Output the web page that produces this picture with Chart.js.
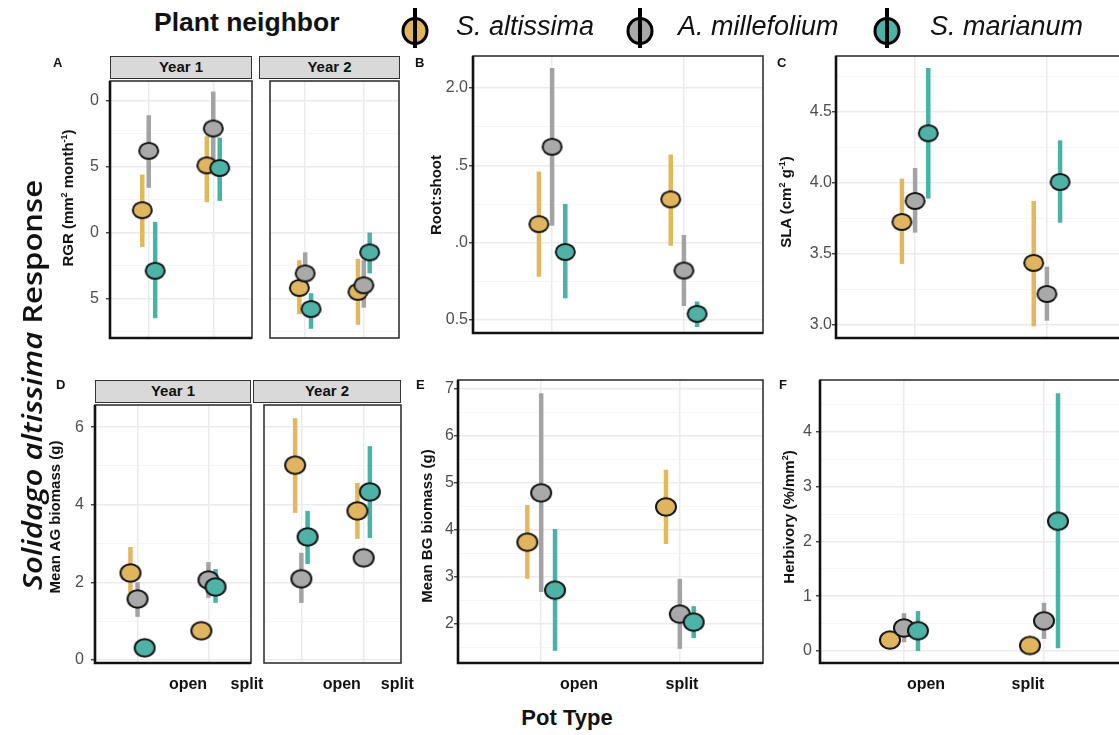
<!DOCTYPE html>
<html><head><meta charset="utf-8">
<script src="https://cdn.jsdelivr.net/npm/chart.js@4.4.1/dist/chart.umd.min.js"></script>
<style>
html,body{margin:0;padding:0;background:#fff;}
body{width:1119px;height:735px;overflow:hidden;position:relative;font-family:"Liberation Sans",Arial,sans-serif;color:#111;}
.abs{position:absolute;white-space:nowrap;}
.strip{position:absolute;box-sizing:border-box;background:#D9D9D9;border:1.5px solid #333;font-weight:bold;font-size:15px;text-align:center;}
.ytitle{position:absolute;white-space:nowrap;font-weight:bold;font-size:15px;transform:translate(-50%,-50%) rotate(-90deg);}
.ytitle sup{font-size:9px;}
.letter{position:absolute;font-weight:bold;font-size:13px;}
canvas{position:absolute;}
</style>
</head><body>
<script>
// ---------------- data ----------------
const potTypes = ['open', 'split'];
const neighbors = ['S. altissima', 'A. millefolium', 'S. marianum'];
const fillColors = ['#E0B55E', '#A9A9A9', '#4DB3A7'];
const barColors = ['#E3B75C', '#A3A3A3', '#48B2A6'];

// rows = neighbor (S. altissima, A. millefolium, S. marianum); cols = [open, split]
// A: RGR
const rgrY1Mean = [[1.7, 5.1], [6.2, 7.9], [-2.9, 4.9]];
const rgrY1Lo   = [[-1.1, 2.3], [3.4, 5.0], [-6.5, 2.4]];
const rgrY1Hi   = [[4.4, 7.3], [8.9, 10.7], [0.8, 7.2]];
const rgrY2Mean = [[-4.2, -4.5], [-3.1, -4.0], [-5.8, -1.5]];
const rgrY2Lo   = [[-6.2, -7.0], [-4.5, -5.7], [-7.3, -3.1]];
const rgrY2Hi   = [[-2.1, -2.0], [-1.5, -2.1], [-4.6, 0.0]];
const rgrTickValues = [-5, 0, 5, 10];
const rgrTickLabels = ['5', '0', '5', '0'];

// B: Root:shoot
const rsMean = [[1.12, 1.28], [1.62, 0.82], [0.94, 0.54]];
const rsLo   = [[0.78, 0.98], [1.11, 0.59], [0.64, 0.455]];
const rsHi   = [[1.46, 1.57], [2.13, 1.05], [1.25, 0.62]];
const rsTickValues = [0.5, 1.0, 1.5, 2.0];
const rsTickLabels = ['0.5', '.0', '.5', '2.0'];

// C: SLA
const slaMean = [[3.725, 3.437], [3.873, 3.218], [4.35, 4.007]];
const slaLo   = [[3.43, 2.99], [3.65, 3.03], [3.89, 3.72]];
const slaHi   = [[4.03, 3.873], [4.105, 3.41], [4.81, 4.30]];
const slaTickValues = [3.0, 3.5, 4.0, 4.5];
const slaTickLabels = ['3.0', '3.5', '4.0', '4.5'];

// D: Mean AG biomass
const agY1Mean = [[2.24, 0.75], [1.57, 2.06], [0.31, 1.88]];
const agY1Lo   = [[1.73, 0.75], [1.11, 1.60], [0.31, 1.47]];
const agY1Hi   = [[2.91, 0.75], [2.00, 2.52], [0.31, 2.34]];
const agY2Mean = [[5.02, 3.84], [2.09, 2.63], [3.17, 4.33]];
const agY2Lo   = [[3.79, 3.12], [1.47, 2.63], [2.47, 3.14]];
const agY2Hi   = [[6.23, 4.56], [2.76, 2.63], [3.84, 5.51]];
const agTickValues = [0, 2, 4, 6];
const agTickLabels = ['0', '2', '4', '6'];

// E: Mean BG biomass
const bgMean = [[3.74, 4.49], [4.79, 2.21], [2.72, 2.04]];
const bgLo   = [[2.96, 3.70], [2.68, 1.47], [1.43, 1.70]];
const bgHi   = [[4.53, 5.28], [6.91, 2.96], [4.02, 2.38]];
const bgTickValues = [2, 3, 4, 5, 6, 7];
const bgTickLabels = ['2', '3', '4', '5', '6', '7'];

// F: Herbivory
const hbMean = [[0.20, 0.10], [0.42, 0.55], [0.37, 2.37]];
const hbLo   = [[0.20, 0.10], [0.16, 0.22], [0.00, 0.05]];
const hbHi   = [[0.20, 0.10], [0.69, 0.88], [0.73, 4.71]];
const hbTickValues = [0, 1, 2, 3, 4];
const hbTickLabels = ['0', '1', '2', '3', '4'];

const dodge = [-0.1, 0, 0.1];

// ---------------- layout ----------------
const FONT = '"Liberation Sans", Arial, sans-serif';
const panels = [
  {mean: rgrY1Mean, lo: rgrY1Lo, hi: rgrY1Hi, rect: [110, 81, 252, 338], y: [-8.0, 11.5], minor: 2.5, tv: rgrTickValues, tl: rgrTickLabels, yAxis: true, pad: 7, heavy: true, big: false},
  {mean: rgrY2Mean, lo: rgrY2Lo, hi: rgrY2Hi, rect: [259, 81, 399, 338], y: [-8.0, 11.5], minor: 2.5, tv: rgrTickValues, tl: rgrTickLabels, yAxis: false, heavy: false, big: false},
  {mean: rsMean, lo: rsLo, hi: rsHi, rect: [473, 56, 763, 333], y: [0.416, 2.207], minor: 0.25, tv: rsTickValues, tl: rsTickLabels, yAxis: true, pad: 1, heavy: true, big: false},
  {mean: slaMean, lo: slaLo, hi: slaHi, rect: [836, 56, 1126, 338], y: [2.908, 4.894], minor: 0.25, tv: slaTickValues, tl: slaTickLabels, yAxis: true, pad: 0, heavy: true, big: false},
  {mean: agY1Mean, lo: agY1Lo, hi: agY1Hi, rect: [95, 405, 251, 663], y: [-0.08, 6.57], minor: 1, tv: agTickValues, tl: agTickLabels, yAxis: true, pad: 7, heavy: true, big: true, xLab: [188, 247]},
  {mean: agY2Mean, lo: agY2Lo, hi: agY2Hi, rect: [253, 405, 401, 663], y: [-0.08, 6.57], minor: 1, tv: agTickValues, tl: agTickLabels, yAxis: false, heavy: false, big: true, xLab: [337, 397]},
  {mean: bgMean, lo: bgLo, hi: bgHi, rect: [458, 380, 763, 663], y: [1.17, 7.19], minor: 0.5, tv: bgTickValues, tl: bgTickLabels, yAxis: true, pad: 0, heavy: true, big: true, xLab: [579, 682]},
  {mean: hbMean, lo: hbLo, hi: hbHi, rect: [820, 380, 1128, 663], y: [-0.22, 4.95], minor: 0.5, tv: hbTickValues, tl: hbTickLabels, yAxis: true, pad: 4, heavy: true, big: true, xLab: [926, 1028]}
];

function ellipseImg(fill, rx, ry) {
  const c = document.createElement('canvas');
  c.width = Math.ceil(rx * 2 + 4); c.height = Math.ceil(ry * 2 + 4);
  const g = c.getContext('2d');
  g.beginPath();
  g.ellipse(c.width / 2, c.height / 2, rx, ry, 0, 0, Math.PI * 2);
  g.fillStyle = fill; g.fill();
  g.lineWidth = 2; g.strokeStyle = '#151515'; g.stroke();
  return c;
}
const imgSmall = fillColors.map(c => ellipseImg(c, 9.5, 8));
const imgBig = fillColors.map(c => ellipseImg(c, 10, 8.7));

const framePlugin = {
  id: 'frame',
  beforeDatasetsDraw(chart, args, opts) {
    const {ctx, chartArea: a} = chart;
    ctx.save();
    ctx.strokeStyle = '#333'; ctx.lineWidth = 1.6;
    ctx.strokeRect(a.left, a.top, a.right - a.left, a.bottom - a.top);
    if (opts.heavy) {
      ctx.strokeStyle = '#111'; ctx.lineWidth = 2.6;
      ctx.beginPath();
      ctx.moveTo(a.left, a.top); ctx.lineTo(a.left, a.bottom); ctx.lineTo(a.right, a.bottom);
      ctx.stroke();
    }
    ctx.restore();
  }
};

function makePanel(p) {
  const [l, t, r, b] = p.rect;
  const axisW = p.yAxis ? 50 : 0;
  const padT = 24, padR = 30;
  const padB = p.xLab ? 0 : 24;
  const xlH = p.xLab ? 34 : 0;
  const cw = axisW + (r - l) + padR, ch = padT + (b - t) + padB + xlH;
  const cv = document.createElement('canvas');
  cv.width = cw; cv.height = ch;
  cv.style.left = (l - axisW) + 'px'; cv.style.top = (t - padT) + 'px';
  cv.style.width = cw + 'px'; cv.style.height = ch + 'px';
  document.body.appendChild(cv);

  const imgs = p.big ? imgBig : imgSmall;
  const datasets = [];
  neighbors.forEach((n, i) => {
    potTypes.forEach((pt, j) => {
      datasets.push({
        type: 'line', order: 10,
        data: [{x: j + 1 + dodge[i], y: p.lo[i][j]}, {x: j + 1 + dodge[i], y: p.hi[i][j]}],
        borderColor: barColors[i], borderWidth: 4.5, borderCapStyle: 'butt',
        pointRadius: 0, fill: false, xAxisID: 'x', yAxisID: 'y'
      });
    });
    datasets.push({
      type: 'scatter', order: 3 - i, label: n,
      data: potTypes.map((pt, j) => ({x: j + 1 + dodge[i], y: p.mean[i][j]})),
      pointStyle: imgs[i], pointRadius: 10, xAxisID: 'x', yAxisID: 'y'
    });
  });

  const [ymin, ymax] = p.y;
  const isMajor = v => p.tv.some(tv => Math.abs(tv - v) < 1e-6);
  const scales = {
    x: {
      type: 'linear', position: 'bottom', min: 0.4, max: 2.6,
      afterBuildTicks: s => { s.ticks = potTypes.map((_, i) => ({value: i + 1})); },
      afterFit: s => { s.height = 0; },
      ticks: {display: false},
      grid: {color: '#EBEBEB', lineWidth: 1.5, drawTicks: false},
      border: {display: false}
    },
    y: {
      type: 'linear', position: 'left', min: ymin, max: ymax,
      afterBuildTicks: s => {
        const arr = [];
        for (let k = Math.ceil(ymin / p.minor - 1e-9); k * p.minor <= ymax + 1e-9; k++) arr.push({value: +(k * p.minor).toFixed(6)});
        s.ticks = arr;
      },
      afterFit: s => { s.width = axisW; },
      ticks: {
        display: p.yAxis, autoSkip: false, padding: p.pad || 0, color: '#4D4D4D',
        font: {family: FONT, size: 16},
        callback: v => { const i = p.tv.findIndex(tv => Math.abs(tv - v) < 1e-6); return i >= 0 ? p.tl[i] : ''; }
      },
      grid: {
        color: c => isMajor(c.tick.value) ? '#EBEBEB' : '#F4F4F4',
        lineWidth: c => isMajor(c.tick.value) ? 1.5 : 0.9,
        drawTicks: p.yAxis, tickLength: 4, tickWidth: 1.3,
        tickColor: c => isMajor(c.tick.value) ? '#333' : 'rgba(0,0,0,0)'
      },
      border: {display: false}
    }
  };
  if (p.xLab) {
    const [p1, p2] = p.xLab;
    const unit = p2 - p1;
    scales.xl = {
      type: 'linear', position: 'bottom',
      min: 1 - (p1 - l) / unit, max: 2 + (r - p2) / unit,
      afterBuildTicks: s => { s.ticks = potTypes.map((_, i) => ({value: i + 1})); },
      afterFit: s => { s.height = xlH; },
      grid: {display: false, drawTicks: false},
      border: {display: false},
      ticks: {
        autoSkip: false, maxRotation: 0, padding: 12, color: '#111',
        font: {family: FONT, size: 16, weight: 'bold'},
        callback: v => potTypes[Math.round(v) - 1] || ''
      }
    };
  }

  new Chart(cv, {
    type: 'scatter',
    data: {datasets},
    options: {
      responsive: false, animation: false, devicePixelRatio: 1, events: [],
      layout: {padding: {left: 0, top: padT, right: padR, bottom: padB}},
      plugins: {legend: {display: false}, tooltip: {enabled: false}, frame: {heavy: p.heavy}},
      scales
    },
    plugins: [framePlugin]
  });
}
panels.forEach(makePanel);

// ---------------- text / decorations ----------------
function addDiv(cls, html, css) {
  const d = document.createElement('div');
  d.className = cls; d.innerHTML = html; d.style.cssText += css;
  document.body.appendChild(d);
  return d;
}
// strips
[['Year 1', 110, 56, 252, 79], ['Year 2', 259, 56, 400, 79], ['Year 1', 95, 380, 251, 403], ['Year 2', 253, 380, 401, 403]]
  .forEach(([txt, l, t, r, b]) => addDiv('strip', txt, `left:${l}px;top:${t}px;width:${r - l}px;height:${b - t}px;line-height:${b - t - 3}px;`));

// panel letters
[['A', 53, 55], ['B', 415, 55], ['C', 777, 55], ['D', 56, 377], ['E', 416, 377], ['F', 779, 377]]
  .forEach(([txt, x, y]) => addDiv('letter', txt, `left:${x}px;top:${y}px;`));

// y titles
[['RGR (mm<sup>2</sup> month<sup>-1</sup>)', 67, 198], ['Root:shoot', 435, 195], ['SLA (cm<sup>2</sup> g<sup>-1</sup>)', 785, 202],
 ['Mean AG biomass (g)', 54, 517], ['Mean BG biomass (g)', 426, 526], ['Herbivory (%/mm<sup>2</sup>)', 788, 517]]
  .forEach(([txt, x, y]) => addDiv('ytitle', txt, `left:${x}px;top:${y}px;`));

// overall titles
addDiv('ytitle', '<i>Solidago altissima</i> Response', 'left:31px;top:385px;font-family:"Open Sans",sans-serif;font-size:27px;font-weight:600;transform:translate(-50%,-50%) rotate(-90deg) scaleX(1.15);');
addDiv('abs', 'Pot Type', 'left:567px;top:718px;transform:translate(-50%,-50%);font-weight:bold;font-size:22px;');
addDiv('abs', 'Plant neighbor', 'left:154px;top:22px;transform:translateY(-50%) scaleX(1.06);transform-origin:left center;font-weight:bold;font-size:25px;');

// legend
const legendIconX = [415, 640, 887];
const legendTextX = [456, 678, 930];
neighbors.forEach((n, i) => {
  const svg = `<svg width="32" height="46" viewBox="0 0 32 46"><ellipse cx="16" cy="24" rx="12" ry="12.5" fill="${fillColors[i]}" stroke="#000" stroke-width="3"/><rect x="14" y="1" width="4" height="40" fill="#000"/></svg>`;
  addDiv('abs', svg, `left:${legendIconX[i] - 16}px;top:7px;line-height:0;`);
  addDiv('abs', n, `left:${legendTextX[i]}px;top:26px;transform:translateY(-50%);font-style:italic;font-size:27px;color:#111;`);
});
</script>
</body></html>
